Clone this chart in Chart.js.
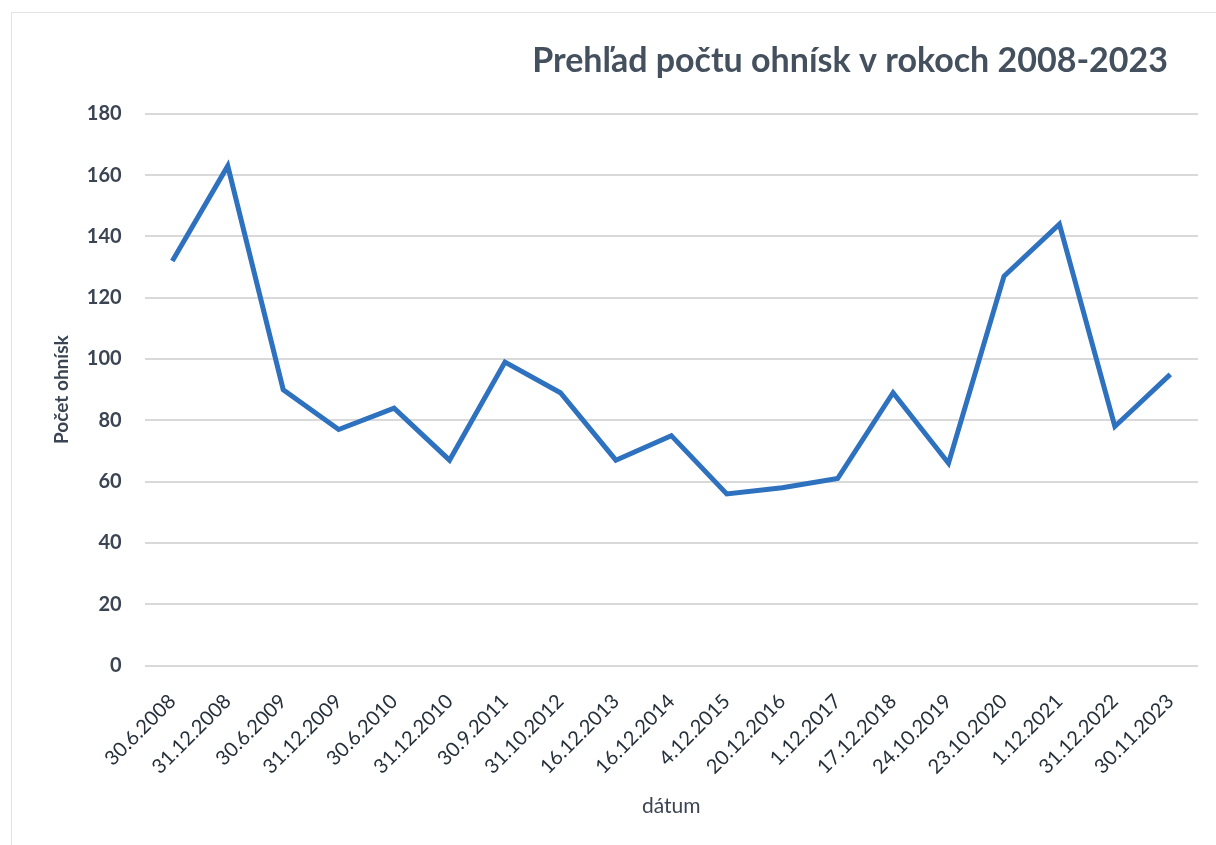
<!DOCTYPE html>
<html>
<head>
<meta charset="utf-8">
<script src="https://cdn.jsdelivr.net/npm/chart.js@4/dist/chart.umd.min.js"></script>
<style>
  html, body { margin: 0; padding: 0; background: #fff; }
  #wrap { position: absolute; left: 0; top: 0; width: 1216px; height: 845px; }
  #frame { position: absolute; left: 11px; top: 12px; width: 1210px; height: 840px; border: 1px solid #e3e3e3; }
</style>
</head>
<body>
<div id="frame"></div>
<div id="wrap"><canvas id="myChart" width="1216" height="845"></canvas></div>
<script>
// dates of the counts
var dates = ['30.6.2008', '31.12.2008', '30.6.2009', '31.12.2009', '30.6.2010', '31.12.2010',
  '30.9.2011', '31.10.2012', '16.12.2013', '16.12.2014', '4.12.2015', '20.12.2016',
  '1.12.2017', '17.12.2018', '24.10.2019', '23.10.2020', '1.12.2021', '31.12.2022', '30.11.2023'];
// number of outbreaks
var counts = [132, 163, 90, 77, 84, 67, 99, 89, 67, 75, 56, 58, 61, 89, 66, 127, 144, 78, 95];

var yMin = 0;
var yMax = 180;
var yStep = 20;

var textColor = '#3a4452';
var fontName = 'Lato, "Open Sans", sans-serif';

// title in the reference ends a bit left of the plot's right edge
var shiftTitle = {
  id: 'shiftTitle',
  afterLayout: function(chart) {
    if (chart.titleBlock) {
      chart.titleBlock.right -= 30;
    }
  }
};

var myChart = document.getElementById('myChart');
var outbreakChart = new Chart(myChart, {
  type: 'line',
  data: {
    labels: dates,
    datasets: [{
      label: 'Počet ohnísk',
      data: counts,
      borderColor: '#2d71bf',
      borderWidth: 5,
      pointRadius: 0,
      tension: 0,
      fill: false
    }]
  },
  options: {
    responsive: false,
    animation: false,
    layout: {
      padding: { left: 50, right: 18, top: 10, bottom: 26 }
    },
    plugins: {
      legend: { display: false },
      tooltip: { enabled: false },
      title: {
        display: true,
        text: 'Prehľad počtu ohnísk v rokoch 2008-2023',
        align: 'end',
        color: '#44505e',
        font: { family: fontName, size: 34, weight: 'bold' },
        padding: { top: 31, bottom: 32 }
      }
    },
    scales: {
      x: {
        offset: true,
        grid: { display: false },
        border: { display: false },
        ticks: {
          color: '#26303b',
          font: { family: fontName, size: 20 },
          minRotation: 45,
          maxRotation: 45,
          padding: 16
        },
        title: {
          display: true,
          text: 'dátum',
          color: textColor,
          font: { family: fontName, size: 21 },
          padding: { top: -1, bottom: 0 }
        }
      },
      y: {
        min: yMin,
        max: yMax,
        grid: { color: '#d9d9d9', lineWidth: 2, drawTicks: false },
        border: { display: false },
        ticks: {
          stepSize: yStep,
          color: textColor,
          font: { family: fontName, size: 20, weight: 'bold' },
          padding: 23
        },
        title: {
          display: true,
          text: 'Počet ohnísk',
          color: textColor,
          font: { family: fontName, size: 19, weight: 'bold' },
          padding: { top: 0, bottom: -9 }
        }
      }
    }
  },
  plugins: [shiftTitle]
});
</script>
</body>
</html>
